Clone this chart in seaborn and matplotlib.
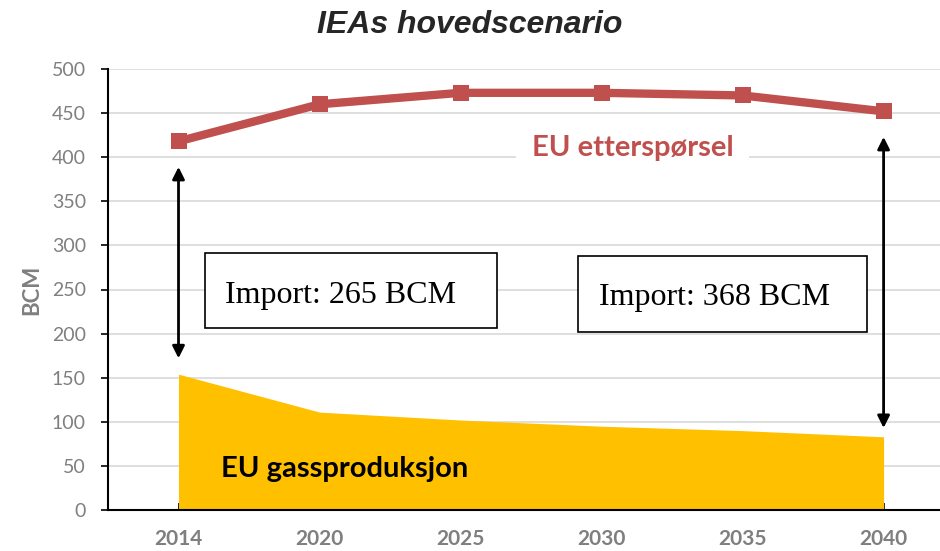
import matplotlib
matplotlib.use("Agg")
import matplotlib.pyplot as plt
from matplotlib.patches import Rectangle
import seaborn as sns
import pandas as pd
import numpy as np

years = ["2014", "2020", "2025", "2030", "2035", "2040"]
demand = [418, 460, 473, 473, 470, 452]
production = [154, 111, 102, 95, 90, 83]
import_labels = ["Import: 265 BCM", "Import: 368 BCM"]
y_ticks = [0, 50, 100, 150, 200, 250, 300, 350, 400, 450, 500]

sns.set_theme(style="white")
plt.rcParams['font.family'] = ['Lato', 'DejaVu Sans']

fig = plt.figure(figsize=(9.4, 5.51), dpi=100)
ax = fig.add_axes([108/940, 1-510/551, 1-108/940, (510-69)/551])

x = np.arange(len(years))
df = pd.DataFrame({"x": x, "demand": demand, "production": production})

ax.fill_between(df["x"], 0, df["production"], color="#ffc000", linewidth=0, zorder=2)
sns.lineplot(data=df, x="x", y="demand", ax=ax, color="#c0504d", linewidth=6,
             marker="s", markersize=11, markeredgewidth=0, zorder=4)

ax.set_xlim(-0.5, 5.4)
ax.set_ylim(0, 500)
ax.set_yticks(y_ticks)
ax.set_yticklabels([str(v) for v in y_ticks], color="#7f7f7f", fontsize=14)
ax.set_xticks(x)
ax.set_xticklabels(years, color="#7f7f7f", fontsize=15, fontweight="bold")
ax.set_xticks(np.arange(-0.5, 5.5, 1.0), minor=True)
ax.tick_params(axis="x", which="major", direction="in", length=5, width=1.2, color="black", pad=14, bottom=True)
ax.tick_params(axis="x", which="minor", direction="in", length=5, width=1.2, color="black", bottom=True)
ax.tick_params(axis="y", which="major", direction="out", length=5, width=1.2, color="black", pad=11, left=True)

ax.grid(axis="y", color="#d9d9d9", linewidth=1.2, zorder=0)
ax.set_axisbelow(True)
for s in ["top", "right"]:
    ax.spines[s].set_visible(False)
for s in ["left", "bottom"]:
    ax.spines[s].set_visible(True)
    ax.spines[s].set_color("black")
    ax.spines[s].set_linewidth(1.5)

ax.set_xlabel("")
ax.set_ylabel("BCM", color="#7f7f7f", fontsize=16, fontweight="bold", labelpad=7)

fig.text(0.5, 1-25/551, "IEAs hovedscenario", ha="center", va="center",
         fontsize=23, fontweight="bold", fontstyle="italic", family=["Liberation Sans", "DejaVu Sans"])

# arrows
ax.annotate("", xy=(0, 389), xytext=(0, 172),
            arrowprops=dict(arrowstyle="<|-|>", color="black", lw=2, mutation_scale=18, shrinkA=0, shrinkB=0), zorder=5)
ax.annotate("", xy=(5, 423), xytext=(5, 93),
            arrowprops=dict(arrowstyle="<|-|>", color="black", lw=2, mutation_scale=18, shrinkA=0, shrinkB=0), zorder=5)

# import boxes
ax.add_patch(Rectangle((0.19, 206), 2.07, 85, facecolor="white", edgecolor="black", linewidth=1.2, zorder=5))
ax.add_patch(Rectangle((2.83, 202), 2.05, 86, facecolor="white", edgecolor="black", linewidth=1.2, zorder=5))
ax.text(0.33, 243, import_labels[0], ha="left", va="center", fontsize=23,
        family=["Liberation Serif", "DejaVu Serif"], color="black", zorder=6)
ax.text(2.98, 241, import_labels[1], ha="left", va="center", fontsize=23,
        family=["Liberation Serif", "DejaVu Serif"], color="black", zorder=6)

ax.text(0.3, 47, "EU gassproduksjon", ha="left", va="center", fontsize=21,
        fontweight="bold", color="black", zorder=6)
ax.text(3.22, 410, "EU etterspørsel", ha="center", va="center", fontsize=21,
        fontweight="bold", color="#c0504d", zorder=6,
        bbox=dict(boxstyle="square,pad=0.55", facecolor="white", edgecolor="none"))

fig.savefig("out.png", dpi=100)
